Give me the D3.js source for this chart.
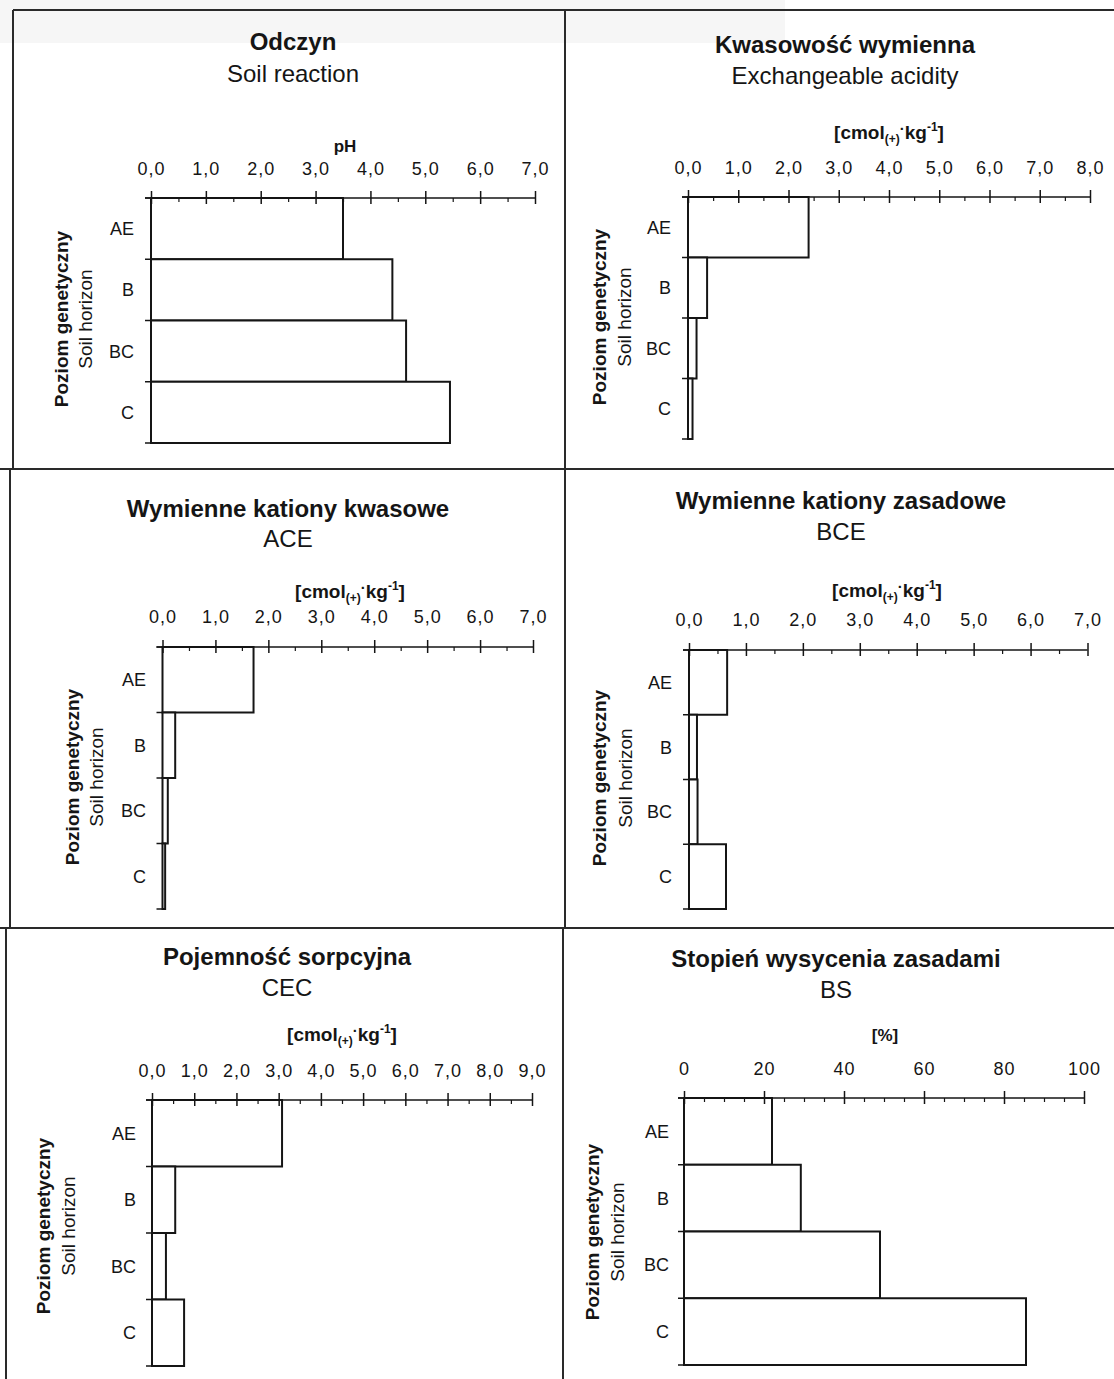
<!DOCTYPE html>
<html>
<head>
<meta charset="utf-8">
<script src="https://cdn.jsdelivr.net/npm/d3@7"></script>
<style>
  html, body { margin: 0; padding: 0; background: #fff; }
  svg { display: block; font-family: "Liberation Sans", Arial, Helvetica, sans-serif; }
</style>
</head>
<body>
<svg id="chart" width="1114" height="1379"></svg>
<script>
// Soil horizons (top to bottom of the profile)
const horizons = ["AE", "B", "BC", "C"];

// Measured properties for each horizon
const phValues            = [3.5, 4.4, 4.65, 5.45];   // pH
const exchangeableAcidity = [2.4, 0.38, 0.17, 0.09];  // cmol(+)/kg
const aceValues           = [1.72, 0.24, 0.10, 0.05]; // cmol(+)/kg
const bceValues           = [0.67, 0.14, 0.15, 0.65]; // cmol(+)/kg
const cecValues           = [3.08, 0.55, 0.33, 0.76]; // cmol(+)/kg
const bsValues            = [22, 29.2, 49, 85.5];     // %

// Major tick values of each value axis
const ticksPH  = [0, 1, 2, 3, 4, 5, 6, 7];
const ticksEA  = [0, 1, 2, 3, 4, 5, 6, 7, 8];
const ticksACE = [0, 1, 2, 3, 4, 5, 6, 7];
const ticksBCE = [0, 1, 2, 3, 4, 5, 6, 7];
const ticksCEC = [0, 1, 2, 3, 4, 5, 6, 7, 8, 9];
const ticksBS  = [0, 20, 40, 60, 80, 100];

// Panel titles (Polish / English)
const titlesPl = ["Odczyn", "Kwasowość wymienna", "Wymienne kationy kwasowe",
                  "Wymienne kationy zasadowe", "Pojemność sorpcyjna", "Stopień wysycenia zasadami"];
const titlesEn = ["Soil reaction", "Exchangeable acidity", "ACE", "BCE", "CEC", "BS"];
const unitKinds = ["pH", "cmol", "cmol", "cmol", "cmol", "pct"];
const yTitlePl = "Poziom genetyczny";
const yTitleEn = "Soil horizon";

// Placement of each panel on the page
const panels = [
  { values: phValues, ticks: ticksPH, minor: 0.5, pct: false,
    x0: 151, x1: 535, yTop: 198, yBot: 443, cx: 293, t1: 50, t2: 82,
    ux: 345, uy: 152, pad: 16, catX: 134, ytA: 68, ytB: 92, ytY: 319 },
  { values: exchangeableAcidity, ticks: ticksEA, minor: 0.5, pct: false,
    x0: 688, x1: 1090, yTop: 197, yBot: 439, cx: 845, t1: 53, t2: 84,
    ux: 889, uy: 139, pad: 16, catX: 671, ytA: 606, ytB: 631, ytY: 317 },
  { values: aceValues, ticks: ticksACE, minor: 0.5, pct: false,
    x0: 162.5, x1: 533, yTop: 647, yBot: 909, cx: 288, t1: 517, t2: 547,
    ux: 350, uy: 598, pad: 17, catX: 146, ytA: 79, ytB: 103, ytY: 777 },
  { values: bceValues, ticks: ticksBCE, minor: 0.5, pct: false,
    x0: 689, x1: 1087.5, yTop: 650, yBot: 909, cx: 841, t1: 509, t2: 540,
    ux: 887, uy: 597, pad: 17, catX: 672, ytA: 606, ytB: 632, ytY: 778 },
  { values: cecValues, ticks: ticksCEC, minor: 0.5, pct: false,
    x0: 152, x1: 532, yTop: 1100, yBot: 1366, cx: 287, t1: 965, t2: 996,
    ux: 342, uy: 1041, pad: 16, catX: 136, ytA: 50, ytB: 75, ytY: 1226 },
  { values: bsValues, ticks: ticksBS, minor: 5, pct: true,
    x0: 684, x1: 1084, yTop: 1098, yBot: 1365, cx: 836, t1: 967, t2: 998,
    ux: 885, uy: 1041, pad: 16, catX: 669, ytA: 599, ytB: 624, ytY: 1232 }
];

const ink = "#151515";
const svg = d3.select("#chart");

// Faint grey strip along the top edge of the sheet
svg.append("rect").attr("x", 0).attr("y", 0).attr("width", 785).attr("height", 43)
  .attr("fill", "#f6f6f6");

// Sheet frame and panel dividers
const frame = svg.append("g").attr("stroke", "#2a2a2a").attr("stroke-width", 2).attr("fill", "none");
frame.append("line").attr("x1", 13).attr("y1", 10).attr("x2", 1114).attr("y2", 10);
frame.append("line").attr("x1", 0).attr("y1", 469).attr("x2", 1114).attr("y2", 469);
frame.append("line").attr("x1", 0).attr("y1", 928).attr("x2", 1114).attr("y2", 928);
frame.append("line").attr("x1", 13).attr("y1", 10).attr("x2", 13).attr("y2", 469);
frame.append("line").attr("x1", 10).attr("y1", 469).attr("x2", 10).attr("y2", 928);
frame.append("line").attr("x1", 6).attr("y1", 928).attr("x2", 6).attr("y2", 1379);
frame.append("line").attr("x1", 565).attr("y1", 10).attr("x2", 565).attr("y2", 928);
frame.append("line").attr("x1", 563).attr("y1", 928).attr("x2", 563).attr("y2", 1379);

const commaLocale = d3.formatLocale({ decimal: ",", thousands: " ", grouping: [3], currency: ["", ""] });
const fmtDec = commaLocale.format(".1f");
const fmtInt = d3.format("d");

panels.forEach((p, i) => {
  const g = svg.append("g");
  const dMax = p.ticks[p.ticks.length - 1];
  const x = d3.scaleLinear().domain([0, dMax]).range([p.x0, p.x1]);
  const y = d3.scaleBand().domain(horizons).range([p.yTop, p.yBot]).paddingInner(0).paddingOuter(0);

  // Titles
  g.append("text").attr("x", p.cx).attr("y", p.t1).attr("text-anchor", "middle")
    .attr("font-size", 24).attr("font-weight", "bold").attr("fill", ink).text(titlesPl[i]);
  g.append("text").attr("x", p.cx).attr("y", p.t2).attr("text-anchor", "middle")
    .attr("font-size", 24).attr("fill", ink).text(titlesEn[i]);

  // Unit label above the value axis
  const u = g.append("text").attr("x", p.ux).attr("y", p.uy).attr("text-anchor", "middle")
    .attr("font-size", unitKinds[i] === "cmol" ? 19 : 17).attr("font-weight", "bold").attr("fill", ink);
  if (unitKinds[i] === "pH") {
    u.text("pH");
  } else if (unitKinds[i] === "pct") {
    u.text("[%]");
  } else {
    u.append("tspan").text("[cmol");
    u.append("tspan").attr("font-size", 12).attr("dy", 4).text("(+)");
    u.append("tspan").attr("font-size", 15).attr("dy", -9).text("·");
    u.append("tspan").attr("dy", 5).text("kg");
    u.append("tspan").attr("font-size", 12).attr("dy", -8).text("-1");
    u.append("tspan").attr("dy", 8).text("]");
  }

  // Bars: one box per horizon, from 0 to the measured value
  g.append("g").selectAll("rect").data(horizons).join("rect")
    .attr("x", x(0))
    .attr("y", h => y(h))
    .attr("width", (h, k) => x(p.values[k]) - x(0))
    .attr("height", y.bandwidth())
    .attr("fill", "#fff")
    .attr("stroke", ink)
    .attr("stroke-width", 2);

  // Value axis along the top: labels and upper half of major ticks
  const axTop = g.append("g").attr("transform", `translate(0,${p.yTop})`)
    .call(d3.axisTop(x).tickValues(p.ticks).tickSize(7).tickPadding(p.pad)
      .tickFormat(p.pct ? fmtInt : fmtDec));
  axTop.select(".domain").remove();
  axTop.selectAll(".tick line").attr("stroke", ink).attr("stroke-width", 1.5);
  axTop.selectAll(".tick text").attr("font-size", 18).attr("fill", ink)
    .attr("font-family", "\"Liberation Sans\", Arial, sans-serif").style("letter-spacing", "1px");

  // Lower half of major ticks
  const axMajor = g.append("g").attr("transform", `translate(0,${p.yTop})`)
    .call(d3.axisBottom(x).tickValues(p.ticks).tickSize(6).tickFormat(""));
  axMajor.select(".domain").remove();
  axMajor.selectAll(".tick line").attr("stroke", ink).attr("stroke-width", 1.5);

  // Minor ticks
  const minorVals = d3.range(p.minor, dMax, p.minor).filter(v => !p.ticks.some(t => Math.abs(t - v) < 1e-9));
  const axMinor = g.append("g").attr("transform", `translate(0,${p.yTop})`)
    .call(d3.axisBottom(x).tickValues(minorVals).tickSize(4).tickFormat(""));
  axMinor.select(".domain").remove();
  axMinor.selectAll(".tick line").attr("stroke", ink).attr("stroke-width", 1.2);

  // Axis line
  g.append("line").attr("x1", p.x0 - 6).attr("x2", p.x1).attr("y1", p.yTop).attr("y2", p.yTop)
    .attr("stroke", ink).attr("stroke-width", 1.6);

  // Horizon boundaries on the category axis
  const bounds = horizons.map(h => y(h)).concat([y(horizons[horizons.length - 1]) + y.bandwidth()]);
  g.append("g").selectAll("line").data(bounds).join("line")
    .attr("x1", p.x0 - 6).attr("x2", p.x0).attr("y1", d => d).attr("y2", d => d)
    .attr("stroke", ink).attr("stroke-width", 1.5);

  // Horizon labels
  g.append("g").selectAll("text").data(horizons).join("text")
    .attr("x", p.catX)
    .attr("y", h => y(h) + y.bandwidth() / 2 + 6.5)
    .attr("text-anchor", "end")
    .attr("font-size", 18)
    .attr("fill", ink)
    .text(h => h);

  // Category axis titles (rotated)
  g.append("text").attr("transform", `translate(${p.ytA},${p.ytY}) rotate(-90)`)
    .attr("text-anchor", "middle").attr("font-size", 19).attr("font-weight", "bold")
    .attr("fill", ink).text(yTitlePl);
  g.append("text").attr("transform", `translate(${p.ytB},${p.ytY}) rotate(-90)`)
    .attr("text-anchor", "middle").attr("font-size", 19)
    .attr("fill", ink).text(yTitleEn);
});
</script>
</body>
</html>
